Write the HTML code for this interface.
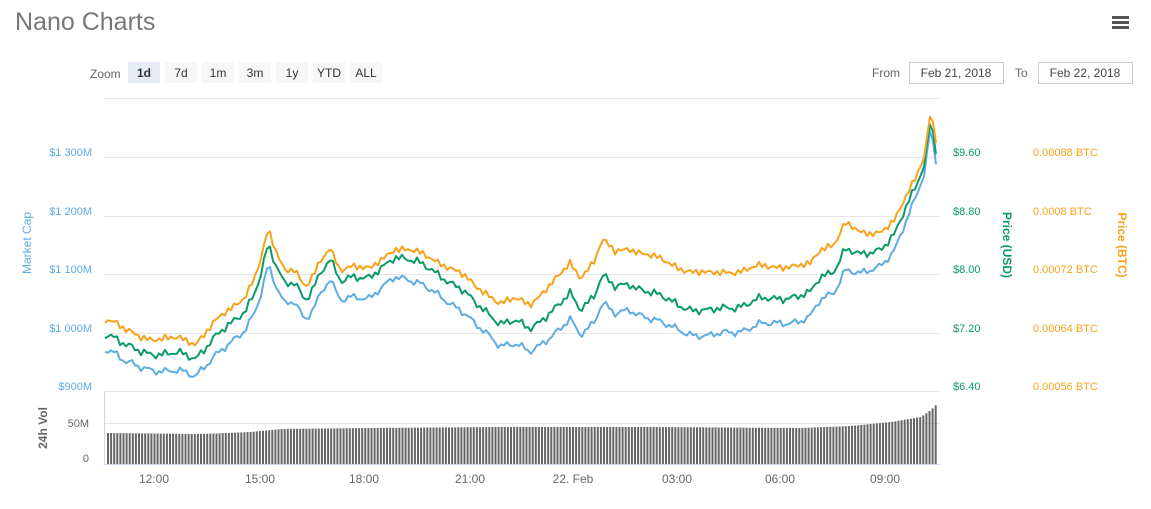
<!DOCTYPE html>
<html><head><meta charset="utf-8"><style>
body{margin:0;background:#fff;width:1151px;height:504px;overflow:hidden;font-family:"Liberation Sans",sans-serif}
</style></head><body>
<svg id="s" width="1151" height="504" xmlns="http://www.w3.org/2000/svg" font-family="Liberation Sans, sans-serif">
<text x="15" y="30" font-size="25" fill="#777">Nano Charts</text>
<g fill="#555"><rect x="1112" y="16" width="17" height="3"/><rect x="1112" y="21" width="17" height="3"/><rect x="1112" y="26" width="17" height="3"/></g>
<text x="90" y="78" font-size="12" fill="#666">Zoom</text>
<g font-size="12" fill="#333" text-anchor="middle">
<rect x="128" y="62" width="32" height="21" fill="#e6ebf5"/><text x="144" y="77" font-weight="bold">1d</text>
<rect x="165" y="62" width="32" height="21" fill="#f7f7f7"/><text x="181" y="77">7d</text>
<rect x="202" y="62" width="32" height="21" fill="#f7f7f7"/><text x="218" y="77">1m</text>
<rect x="239" y="62" width="32" height="21" fill="#f7f7f7"/><text x="255" y="77">3m</text>
<rect x="276" y="62" width="32" height="21" fill="#f7f7f7"/><text x="292" y="77">1y</text>
<rect x="313" y="62" width="32" height="21" fill="#f7f7f7"/><text x="329" y="77">YTD</text>
<rect x="350" y="62" width="32" height="21" fill="#f7f7f7"/><text x="366" y="77">ALL</text>
</g>
<text x="872" y="77" font-size="12" fill="#666">From</text>
<rect x="909.5" y="62.5" width="94" height="21" fill="#fff" stroke="#ccc"/><text x="956" y="77" font-size="12" fill="#444" text-anchor="middle">Feb 21, 2018</text>
<text x="1015" y="77" font-size="12" fill="#666">To</text>
<rect x="1038.5" y="62.5" width="94" height="21" fill="#fff" stroke="#ccc"/><text x="1085" y="77" font-size="12" fill="#444" text-anchor="middle">Feb 22, 2018</text>
<g stroke="#e6e6e6" stroke-width="1">
<line x1="104" x2="940" y1="98.5" y2="98.5"/><line x1="104" x2="940" y1="157.5" y2="157.5"/><line x1="104" x2="940" y1="216.5" y2="216.5"/><line x1="104" x2="940" y1="274.5" y2="274.5"/><line x1="104" x2="940" y1="333.5" y2="333.5"/>
<line x1="104" x2="940" y1="391.5" y2="391.5"/><line x1="104" x2="940" y1="423.5" y2="423.5"/>
</g>
<line x1="104.5" x2="104.5" y1="392" y2="465" stroke="#ccd6eb"/>
<line x1="104" x2="940" y1="464.5" y2="464.5" stroke="#ccd6eb"/>
<g font-size="11" fill="#5dade2" text-anchor="end">
<text x="92" y="156">$1 300M</text><text x="92" y="215">$1 200M</text><text x="92" y="273">$1 100M</text><text x="92" y="332">$1 000M</text><text x="92" y="390">$900M</text></g>
<text transform="translate(31,243) rotate(-90)" font-size="12" fill="#5dade2" text-anchor="middle">Market Cap</text>
<g font-size="11" fill="#666" text-anchor="end"><text x="89" y="427">50M</text><text x="89" y="462">0</text></g>
<text transform="translate(47,428) rotate(-90)" font-size="12" font-weight="bold" fill="#666" text-anchor="middle">24h Vol</text>
<g font-size="11" fill="#0b9a6a"><text x="953" y="156">$9.60</text><text x="953" y="215">$8.80</text><text x="953" y="273">$8.00</text><text x="953" y="332">$7.20</text><text x="953" y="390">$6.40</text></g>
<text transform="translate(1003,245) rotate(90)" font-size="12" font-weight="bold" fill="#0b9a6a" text-anchor="middle">Price (USD)</text>
<g font-size="11" fill="#f7a21b"><text x="1033" y="156">0.00088 BTC</text><text x="1033" y="215">0.0008 BTC</text><text x="1033" y="273">0.00072 BTC</text><text x="1033" y="332">0.00064 BTC</text><text x="1033" y="390">0.00056 BTC</text></g>
<text transform="translate(1118,245) rotate(90)" font-size="12" font-weight="bold" fill="#f7a21b" text-anchor="middle">Price (BTC)</text>
<g font-size="12" fill="#666" text-anchor="middle">
<text x="154" y="483">12:00</text><text x="260" y="483">15:00</text><text x="364" y="483">18:00</text><text x="470" y="483">21:00</text><text x="573" y="483">22. Feb</text><text x="677" y="483">03:00</text><text x="780" y="483">06:00</text><text x="885" y="483">09:00</text></g>
<g id="bars" fill="#666"></g>
<path id="pb" fill="none" stroke="#5dade2" stroke-width="2" stroke-linejoin="round"/>
<path id="pg" fill="none" stroke="#0b9a6a" stroke-width="2" stroke-linejoin="round"/>
<path id="po" fill="none" stroke="#f7a21b" stroke-width="2" stroke-linejoin="round"/>
</svg>
<script>
function interp(pts,x){for(var i=0;i<pts.length-1;i++){if(x<=pts[i+1][0]){var t=(x-pts[i][0])/(pts[i+1][0]-pts[i][0]);return pts[i][1]+t*(pts[i+1][1]-pts[i][1]);}}return pts[pts.length-1][1];}
var blue=[[105,348],[115,352],[125,362],[140,368],[160,370],[180,372],[195,376],[205,365],[215,355],[230,345],[245,330],[255,310],[262,290],[268,265],[275,285],[285,305],[295,300],[305,320],[315,305],[330,280],[340,300],[350,295],[370,300],[385,285],[395,275],[405,278],[420,285],[440,295],[460,310],[475,325],[490,335],[500,345],[515,345],[530,352],[545,340],[560,330],[570,320],[580,335],[595,320],[602,302],[615,315],[630,310],[650,318],[665,325],[680,330],[695,335],[710,337],[725,332],[745,330],[760,325],[780,322],[800,322],[810,318],[820,300],[835,290],[845,270],[860,275],[870,270],[880,265],[895,250],[905,225],[915,200],[925,170],[930,130],[935,150],[937,172]];
var go=[[105,15],[260,20],[400,20],[500,22],[600,27],[700,25],[800,25],[900,15],[930,8],[937,12]];
var oo=[[105,15],[260,15],[400,8],[500,20],[600,35],[700,38],[800,30],[850,25],[900,12],[930,8],[937,10]];
function n(x,s){return Math.sin(x*0.9+s)*1.8+Math.sin(x*0.37+s*2)*2.2+Math.sin(x*0.13+s)*1.5;}
var b="",g="",o="";
for(var x=105;x<=937;x+=3){var y=interp(blue,x)+n(x,0);var gy=y-interp(go,x)+n(x,1)*0.5;var oy=gy-interp(oo,x)+n(x,2)*0.5;
var c=(x==105?"M":"L");b+=c+x+" "+y.toFixed(1);g+=c+x+" "+gy.toFixed(1);o+=c+x+" "+oy.toFixed(1);}
document.getElementById("pb").setAttribute("d",b);document.getElementById("pg").setAttribute("d",g);document.getElementById("po").setAttribute("d",o);
var vb=[[106,433],[200,434],[250,432],[280,429],[364,428],[500,427],[650,427],[800,428],[850,426],[890,422],[920,417],[930,410],[937,403]];
var h="";for(var x=107;x<=937;x+=3.1){var t=interp(vb,x);h+='<rect x="'+x.toFixed(1)+'" y="'+t.toFixed(1)+'" width="2" height="'+(464-t).toFixed(1)+'"/>';}
document.getElementById("bars").innerHTML=h;
</script>
</body></html>
